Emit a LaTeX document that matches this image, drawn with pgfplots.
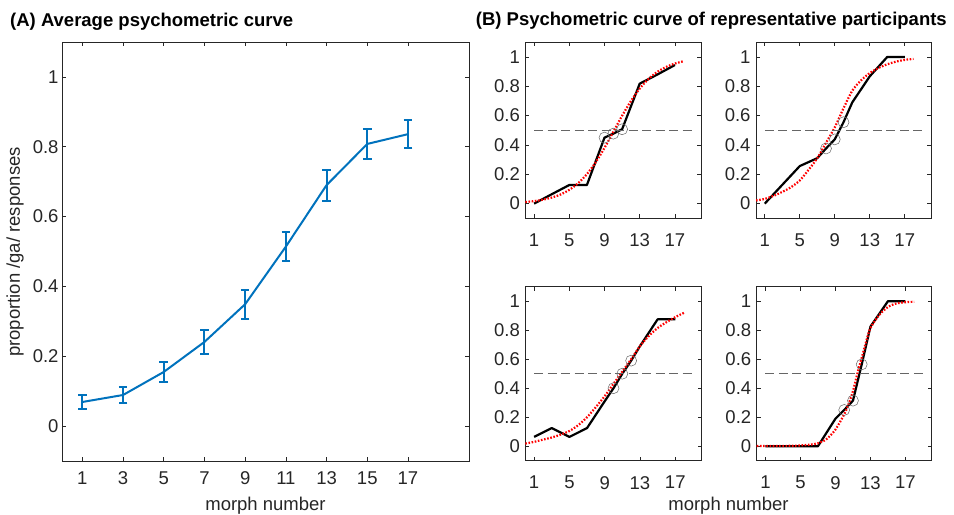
\documentclass[border=0pt]{standalone}
\usepackage{pgfplots}
\pgfplotsset{compat=1.18}
\usepackage{fontspec}
\setmainfont{Liberation Sans}
\newcommand{\fs}{\fontsize{18.5bp}{22bp}\selectfont}
\definecolor{mblue}{rgb}{0,0.447,0.741}
\definecolor{axgray}{rgb}{0.15,0.15,0.15}
\pgfplotsset{
  base/.style={
    scale only axis,
    tick align=inside,
    major tick length=4bp,
    axis line style={axgray, line width=0.7bp},
    tick style={axgray, line width=0.6bp},
    tick label style={font=\fs, text=axgray},
    /pgf/number format/assume math mode=true,
    xmin=0, xmax=20, ymin=-0.1, ymax=1.1,
    ytick={0,0.2,0.4,0.6,0.8,1},
    xticklabel style={yshift=-7bp},
  },
  bpanel/.style={base, width=176bp, height=175bp, xtick={1,5,9,13,17},
    yticklabel style={xshift=-2bp}, xticklabel style={yshift=-5bp}},
  blk/.style={black, line width=2.2bp, line join=round},
  fit/.style={red, line width=2.2bp, dash pattern=on 1.6bp off 1.6bp, smooth},
  half/.style={black!60, line width=1.3bp, dash pattern=on 9bp off 4.5bp},
  circ/.style={only marks, mark=o, mark size=5.5bp, mark options={draw=black!60, line width=0.5bp}},
}
\begin{document}
\begin{tikzpicture}[x=1bp,y=1bp]
\path[use as bounding box] (0,0) rectangle (954,515);

% ---------- Panel A ----------
\begin{axis}[base, at={(62bp,54bp)}, anchor=south west, width=407bp, height=419bp,
  xtick={1,3,5,7,9,11,13,15,17}]
\addplot[mblue, line width=2bp, mark=none,
  error bars/.cd, y dir=both, y explicit,
  error bar style={line width=2bp, mblue},
  error mark options={rotate=90, mark size=4.3bp, line width=2bp, mblue}]
  table[x=x, y=y, y error=e] {
x y e
1 0.069 0.020
3 0.089 0.022
5 0.155 0.028
7 0.241 0.035
9 0.349 0.042
11 0.514 0.041
13 0.690 0.044
15 0.808 0.043
17 0.836 0.041
};
\end{axis}

% ---------- Panel B, top left ----------
\begin{axis}[bpanel, at={(525.3bp,296.7bp)}, anchor=south west, height=176bp]
\addplot[blk] table {
1 0
3 0.064
5 0.127
7 0.127
9 0.45
10 0.477
11 0.507
13 0.818
15 0.88
17 0.945
};
\addplot[fit] table {
0 0.011
1 0.017
2 0.027
3 0.041
4 0.062
5 0.094
6 0.139
7 0.201
8 0.282
9 0.380
10 0.489
11 0.599
12 0.699
13 0.784
14 0.850
15 0.898
16 0.932
17 0.955
18 0.971
};
\addplot[half] coordinates {(1,0.5) (19,0.5)};
\addplot[circ] table {
9 0.45
10 0.477
11 0.507
};
\end{axis}

% ---------- Panel B, top right ----------
\begin{axis}[bpanel, at={(756bp,296.7bp)}, anchor=south west, width=175bp, height=176bp]
\addplot[blk] table {
1 0
3 0.128
5 0.256
7 0.31
8 0.376
9 0.438
10 0.555
11 0.69
13 0.868
15 1
17 1
};
\addplot[fit] table {
0 0.022
1 0.032
2 0.053
3 0.08
4 0.112
5 0.158
6 0.23
7 0.31
8 0.415
9 0.52
10 0.65
11 0.77
12 0.84
13 0.89
14 0.925
15 0.95
16 0.968
17 0.98
18 0.987
};
\addplot[half] coordinates {(1,0.5) (19,0.5)};
\addplot[circ] table {
8 0.376
9 0.438
10 0.555
};
\end{axis}

% ---------- Panel B, bottom left ----------
\begin{axis}[bpanel, at={(525.3bp,54.3bp)}, anchor=south west, width=176.4bp, height=174bp]
\addplot[blk] table {
1 0.064
3 0.125
5 0.064
7 0.125
9 0.31
10 0.40
11 0.50
12 0.59
13 0.69
15 0.875
17 0.875
};
\addplot[fit] table {
0 0.018
1 0.03
2 0.045
3 0.06
4 0.08
5 0.105
6 0.145
7 0.2
8 0.27
9 0.345
10 0.43
11 0.515
12 0.60
13 0.69
14 0.76
15 0.815
16 0.855
17 0.89
18 0.92
};
\addplot[half] coordinates {(1,0.5) (19,0.5)};
\addplot[circ] table {
10 0.40
11 0.50
12 0.59
};
\end{axis}

% ---------- Panel B, bottom right ----------
\begin{axis}[bpanel, at={(756.7bp,54.3bp)}, anchor=south west, width=175bp, height=174bp]
\addplot[blk] table {
1 0
3 0
5 0
7 0
9 0.19
10 0.25
11 0.314
12 0.564
13 0.825
15 1
17 1
};
\addplot[fit] table {
0 0.002
1 0.002
2 0.002
3 0.002
4 0.003
5 0.005
6 0.01
7 0.02
8 0.05
9 0.115
10 0.22
10.5 0.29
11 0.38
11.5 0.5
12 0.61
12.5 0.72
13 0.815
14 0.905
15 0.96
16 0.985
17 0.993
18 0.996
};
\addplot[half] coordinates {(1,0.5) (19,0.5)};
\addplot[circ] table {
10 0.25
11 0.314
12 0.564
};
\end{axis}

% ---------- Texts ----------
\node[anchor=base west, font=\fs\bfseries, inner sep=0] at (10bp,488.3bp) {(A) Average psychometric curve};
\node[anchor=base west, font=\fs\bfseries, inner sep=0] at (475.7bp,489bp) {(B) Psychometric curve of representative participants};
\node[rotate=90, font=\fs, text=axgray] at (15bp,263bp) {proportion /ga/ responses};
\node[anchor=base, font=\fs, text=axgray, inner sep=0] at (265.5bp,4.5bp) {morph number};
\node[anchor=base, font=\fs, text=axgray, inner sep=0] at (728.5bp,4.5bp) {morph number};
\end{tikzpicture}
\end{document}
